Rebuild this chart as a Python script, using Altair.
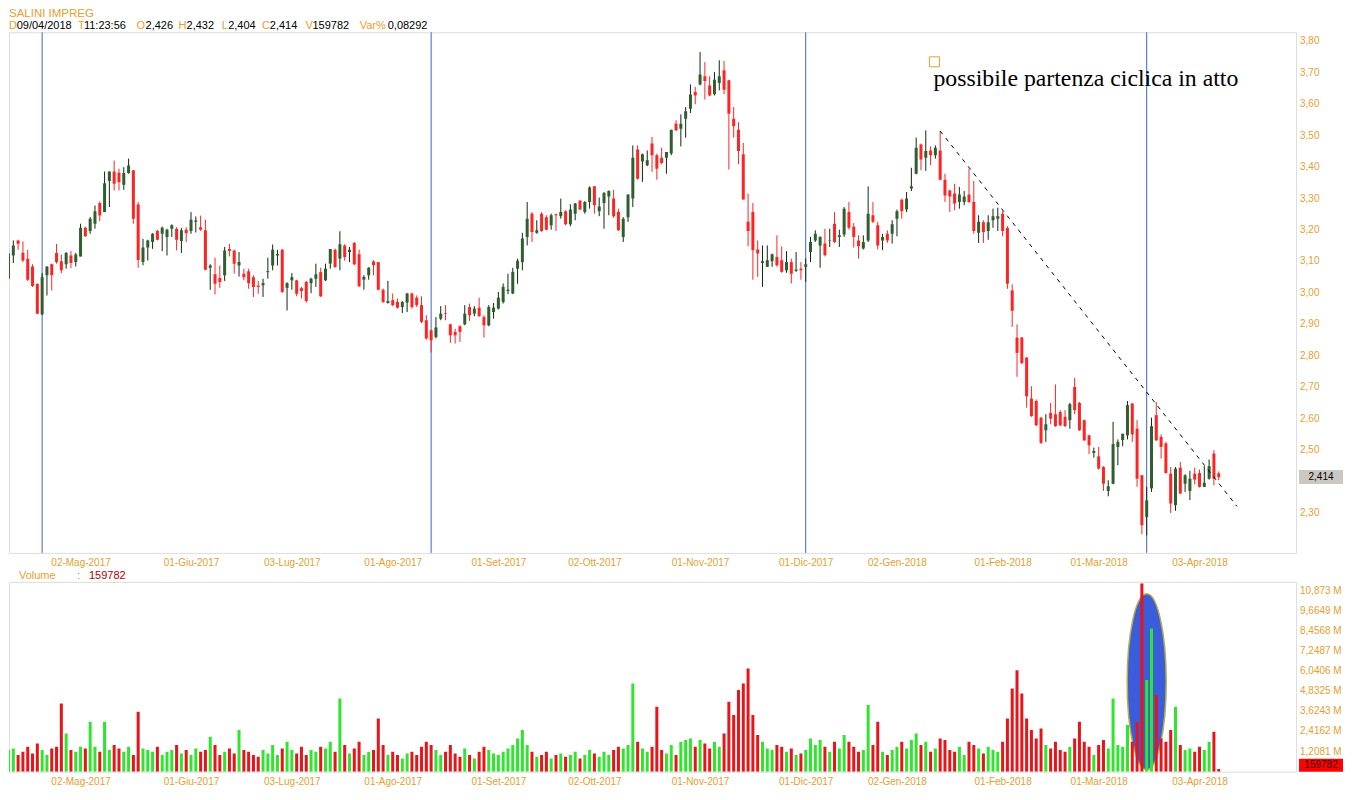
import altair as alt
import pandas as pd

# ---------------- data ----------------
opens = [3.045,3.119,3.167,3.128,3.109,3.084,3.029,2.932,3.056,3.091,
         3.127,3.101,3.091,3.119,3.098,3.116,3.207,3.197,3.220,3.286,
         3.257,3.356,3.386,3.382,3.344,3.381,3.390,3.281,3.098,3.144,
         3.162,3.197,3.188,3.178,3.204,3.204,3.165,3.201,3.197,3.226,
         3.209,3.199,3.080,3.059,3.047,3.056,3.140,3.135,3.087,3.061,
         3.069,3.050,3.023,3.024,3.066,3.087,3.119,3.137,3.016,3.040,
         3.040,3.015,3.035,3.031,3.045,3.066,3.040,3.093,3.137,3.109,
         3.151,3.130,3.159,3.123,3.042,3.056,3.100,3.098,3.010,2.968,
         2.977,2.971,2.955,2.969,2.998,2.985,2.961,2.913,2.881,2.860,
         2.918,2.936,2.900,2.876,2.894,2.900,2.955,2.934,2.953,2.923,
         2.897,2.939,2.950,2.971,3.006,2.998,3.077,3.098,3.178,3.252,
         3.191,3.252,3.241,3.215,3.250,3.244,3.260,3.218,3.252,3.294,
         3.257,3.289,3.339,3.260,3.286,3.307,3.300,3.257,3.178,3.241,
         3.300,3.456,3.418,3.406,3.475,3.438,3.430,3.430,3.443,3.538,
         3.522,3.554,3.586,3.639,3.663,3.689,3.660,3.632,3.668,3.708,
         3.676,3.554,3.519,3.441,3.226,3.257,3.138,3.095,3.083,3.101,
         3.114,3.104,3.072,3.098,3.070,3.077,3.083,3.130,3.167,3.151,
         3.157,3.165,3.220,3.178,3.186,3.257,3.210,3.167,3.141,3.167,
         3.247,3.215,3.167,3.188,3.188,3.236,3.296,3.265,3.332,3.379,
         3.472,3.430,3.453,3.438,3.453,3.360,3.326,3.316,3.289,3.289,
         3.313,3.289,3.191,3.225,3.197,3.231,3.236,3.252,3.207,3.008,
         2.858,2.858,2.794,2.664,2.656,2.603,2.563,2.618,2.614,2.621,
         2.606,2.595,2.701,2.650,2.595,2.547,2.491,2.480,2.446,2.370,
         2.393,2.510,2.532,2.547,2.648,2.568,2.420,2.287,2.378,2.611,
         2.542,2.521,2.425,2.325,2.444,2.393,2.370,2.425,2.427,2.383,
         2.409,2.489,2.426]
highs = [3.130,3.167,3.169,3.164,3.137,3.091,3.029,3.063,3.084,3.093,
         3.156,3.122,3.130,3.133,3.127,3.220,3.211,3.241,3.278,3.291,
         3.386,3.386,3.421,3.395,3.400,3.427,3.390,3.289,3.172,3.169,
         3.190,3.201,3.211,3.204,3.218,3.209,3.207,3.209,3.257,3.243,
         3.246,3.233,3.091,3.112,3.087,3.146,3.156,3.137,3.130,3.077,
         3.077,3.056,3.038,3.045,3.112,3.154,3.137,3.140,3.034,3.063,
         3.042,3.019,3.038,3.048,3.093,3.080,3.093,3.140,3.141,3.196,
         3.155,3.146,3.162,3.138,3.056,3.082,3.104,3.098,3.014,3.038,
         2.998,2.982,2.974,3.000,3.001,2.992,2.989,2.929,2.883,2.923,
         2.958,2.961,2.902,2.886,2.897,2.961,2.966,2.958,2.985,2.929,
         2.961,2.968,3.003,3.030,3.061,3.080,3.109,3.191,3.289,3.257,
         3.231,3.257,3.247,3.252,3.252,3.300,3.263,3.282,3.286,3.294,
         3.292,3.339,3.339,3.303,3.321,3.326,3.328,3.268,3.241,3.313,
         3.469,3.469,3.443,3.453,3.496,3.443,3.462,3.448,3.519,3.549,
         3.568,3.591,3.663,3.655,3.766,3.734,3.689,3.703,3.740,3.738,
         3.678,3.591,3.543,3.477,3.316,3.286,3.167,3.151,3.151,3.125,
         3.183,3.148,3.133,3.109,3.130,3.098,3.109,3.178,3.199,3.180,
         3.204,3.204,3.257,3.201,3.273,3.289,3.222,3.183,3.183,3.339,
         3.289,3.226,3.188,3.199,3.231,3.265,3.300,3.321,3.398,3.494,
         3.475,3.517,3.466,3.469,3.515,3.379,3.328,3.347,3.337,3.324,
         3.395,3.356,3.247,3.231,3.247,3.268,3.271,3.260,3.212,3.027,
         2.900,2.860,2.796,2.703,2.661,2.606,2.614,2.650,2.709,2.627,
         2.627,2.650,2.730,2.653,2.597,2.549,2.508,2.510,2.449,2.404,
         2.590,2.534,2.552,2.656,2.650,2.595,2.420,2.383,2.603,2.653,
         2.550,2.526,2.446,2.446,2.462,2.423,2.434,2.444,2.438,2.449,
         2.470,2.500,2.432]
lows = [3.045,3.095,3.137,3.098,3.038,3.019,2.932,2.929,2.992,3.008,
        3.093,3.063,3.077,3.079,3.084,3.116,3.178,3.188,3.204,3.228,
        3.257,3.273,3.326,3.326,3.328,3.379,3.220,3.080,3.088,3.103,
        3.140,3.167,3.133,3.119,3.178,3.135,3.127,3.162,3.188,3.192,
        3.197,3.072,3.010,2.995,3.016,3.038,3.116,3.061,3.052,3.040,
        3.013,2.987,2.997,2.987,3.045,3.072,3.087,3.000,2.944,3.010,
        2.989,2.982,2.969,2.999,3.019,2.987,3.038,3.077,3.080,3.072,
        3.102,3.098,3.088,3.019,3.010,3.042,3.056,3.008,2.968,2.966,
        2.958,2.950,2.936,2.939,2.950,2.955,2.904,2.851,2.810,2.855,
        2.913,2.913,2.841,2.839,2.844,2.897,2.911,2.926,2.924,2.858,
        2.894,2.918,2.947,2.966,2.996,2.996,3.029,3.072,3.151,3.162,
        3.188,3.194,3.199,3.201,3.197,3.236,3.215,3.212,3.231,3.263,
        3.252,3.268,3.252,3.244,3.204,3.247,3.239,3.197,3.162,3.226,
        3.273,3.360,3.353,3.403,3.385,3.360,3.409,3.379,3.438,3.515,
        3.466,3.494,3.572,3.600,3.660,3.615,3.625,3.628,3.644,3.632,
        3.392,3.494,3.409,3.297,3.148,3.042,3.051,3.019,3.083,3.083,
        3.083,3.064,3.064,3.030,3.067,3.042,3.035,3.098,3.162,3.080,
        3.116,3.146,3.159,3.146,3.178,3.201,3.144,3.109,3.138,3.162,
        3.222,3.138,3.136,3.159,3.157,3.180,3.236,3.257,3.324,3.377,
        3.390,3.388,3.406,3.427,3.358,3.289,3.257,3.263,3.268,3.279,
        3.286,3.188,3.159,3.159,3.169,3.207,3.197,3.180,3.013,2.892,
        2.733,2.773,2.635,2.606,2.576,2.519,2.526,2.582,2.574,2.576,
        2.574,2.568,2.614,2.561,2.529,2.487,2.476,2.438,2.370,2.353,
        2.391,2.452,2.512,2.534,2.526,2.383,2.232,2.229,2.367,2.529,
        2.473,2.425,2.300,2.307,2.360,2.367,2.341,2.391,2.381,2.383,
        2.406,2.388,2.404]
closes = [3.125,3.151,3.156,3.103,3.042,3.022,2.934,3.050,3.084,3.056,
          3.098,3.072,3.127,3.095,3.122,3.207,3.180,3.236,3.260,3.246,
          3.349,3.386,3.347,3.352,3.381,3.405,3.236,3.105,3.144,3.167,
          3.188,3.169,3.207,3.201,3.215,3.169,3.199,3.190,3.233,3.230,
          3.201,3.074,3.087,3.029,3.035,3.135,3.133,3.093,3.098,3.050,
          3.031,3.019,3.019,3.031,3.069,3.137,3.124,3.003,3.031,3.050,
          2.997,3.006,2.974,3.045,3.059,2.989,3.077,3.140,3.082,3.155,
          3.114,3.137,3.091,3.021,3.051,3.080,3.088,3.010,2.971,2.974,
          2.961,2.953,2.971,2.998,2.955,2.961,2.908,2.855,2.849,2.890,
          2.934,2.934,2.865,2.865,2.876,2.934,2.929,2.950,2.926,2.897,
          2.955,2.953,2.985,3.019,3.010,3.067,3.102,3.173,3.236,3.194,
          3.199,3.197,3.201,3.247,3.247,3.257,3.218,3.265,3.284,3.265,
          3.289,3.335,3.279,3.275,3.318,3.324,3.244,3.199,3.236,3.313,
          3.430,3.363,3.441,3.422,3.438,3.395,3.413,3.448,3.519,3.517,
          3.538,3.578,3.631,3.628,3.695,3.674,3.628,3.678,3.689,3.646,
          3.570,3.530,3.451,3.297,3.197,3.136,3.125,3.101,3.104,3.123,
          3.088,3.067,3.098,3.061,3.074,3.072,3.091,3.162,3.188,3.178,
          3.120,3.167,3.162,3.183,3.268,3.207,3.178,3.148,3.162,3.252,
          3.226,3.151,3.178,3.167,3.218,3.260,3.260,3.300,3.339,3.462,
          3.424,3.451,3.438,3.462,3.360,3.310,3.307,3.284,3.313,3.307,
          3.289,3.197,3.226,3.194,3.225,3.244,3.244,3.197,3.029,2.943,
          2.809,2.777,2.671,2.608,2.579,2.523,2.582,2.600,2.576,2.579,
          2.576,2.646,2.627,2.563,2.531,2.515,2.497,2.441,2.393,2.385,
          2.519,2.526,2.552,2.643,2.550,2.409,2.261,2.340,2.576,2.531,
          2.510,2.427,2.330,2.441,2.362,2.420,2.409,2.406,2.383,2.396,
          2.449,2.409,2.414]
volumes_m = [1.3,1.4,1.0,1.2,1.5,1.1,1.7,1.3,1.0,1.4,
             1.5,4.1,2.3,1.3,1.2,1.5,1.4,3.0,1.5,1.2,
             3.0,1.3,1.6,1.4,1.2,1.5,1.0,3.6,1.4,1.3,
             1.2,1.5,1.0,1.2,1.3,1.6,1.1,1.3,1.0,1.4,
             1.2,1.3,2.1,1.6,1.0,1.2,1.4,1.1,2.5,1.3,
             1.2,1.0,0.9,1.3,1.1,1.6,1.0,1.4,1.8,1.3,
             1.1,1.5,1.0,1.3,1.2,1.5,1.4,1.8,1.2,4.4,
             1.6,1.1,1.4,1.8,1.0,1.2,1.3,3.2,1.6,1.0,
             1.2,1.0,0.8,1.1,1.2,1.0,1.5,1.8,1.6,1.3,
             1.0,1.2,1.6,1.1,0.9,1.4,1.0,0.8,1.2,1.5,
             1.3,1.1,1.0,1.2,1.4,1.6,2.0,2.5,1.6,1.2,
             0.9,1.0,1.2,0.8,1.0,1.1,0.9,1.0,1.2,0.8,
             1.0,1.3,1.1,0.9,1.2,1.0,1.3,1.5,1.4,1.6,
             5.3,1.8,1.4,1.2,1.5,3.9,1.3,1.1,1.6,1.0,
             1.8,1.9,2.0,1.5,1.9,1.7,1.4,1.8,1.5,2.3,
             4.2,3.4,4.9,5.3,6.2,3.4,2.2,1.8,1.4,1.3,
             1.6,1.5,1.2,1.4,1.0,1.1,1.3,2.0,1.6,1.9,
             1.5,1.2,1.8,1.4,2.2,1.8,1.5,1.2,1.3,4.0,
             1.6,3.0,1.2,1.0,1.3,1.5,1.8,1.4,1.9,2.3,
             1.6,1.8,1.2,1.4,2.0,1.9,1.3,1.2,1.5,1.0,
             1.8,1.6,1.4,1.1,1.5,1.3,1.2,1.8,3.2,5.0,
             6.1,4.7,3.2,2.5,2.0,2.6,1.6,1.4,1.8,1.3,
             1.2,1.5,2.0,3.0,1.8,1.5,1.0,1.6,1.9,1.4,
             4.4,1.6,1.5,2.8,1.8,3.0,11.3,5.5,8.6,4.6,
             2.0,1.8,2.5,3.9,1.6,1.3,1.4,1.2,1.5,1.3,
             1.8,2.4,0.159782]

cycle_bars = [8, 89, 167, 238]
date_ticks = [16, 39, 60, 81, 103, 123, 145, 167, 186, 208, 228, 249]
date_labels = ["02-Mag-2017", "01-Giu-2017", "03-Lug-2017", "01-Ago-2017",
               "01-Set-2017", "02-Ott-2017", "01-Nov-2017", "01-Dic-2017",
               "02-Gen-2018", "01-Feb-2018", "01-Mar-2018", "03-Apr-2018"]
price_ticks = [2.3, 2.5, 2.6, 2.7, 2.8, 2.9, 3.0, 3.1, 3.2, 3.3, 3.4, 3.5, 3.6, 3.7, 3.8]
volume_ticks = [1.2081, 2.4162, 3.6243, 4.8325, 6.0406, 7.2487, 8.4568, 9.6649, 10.873]
trend_bars = [195, 256.8]
trend_prices = [3.515, 2.321]
note_bar, note_price = 193.6, 3.657
mark_bar_pos, mark_price = 193.8, 3.735
ellipse_bar, ellipse_vol = 238.0, 5.4
last_price = 2.414
last_price_label = "2,414"
last_volume_label = "159782"
header_parts = [("D", "k"), ("09/04/2018", "v"), ("T", "k"), ("11:23:56", "v"),
                ("O", "k"), ("2,426", "v"), ("H", "k"), ("2,432", "v"),
                ("L", "k"), ("2,404", "v"), ("C", "k"), ("2,414", "v"),
                ("V", "k"), ("159782", "v"), ("Var%", "k"), ("0,08292", "v")]

# ---------------- layout / style ----------------
W, HP, HV = 1288, 521, 190
ORANGE = "#E3A030"
UP_BODY, UP_WICK = "#2F5E2F", "#0E2A0E"
DN = "#FF2424"
VOL_UP, VOL_DN = "#2EE62E", "#E8141A"
BLUE = "#3C64D2"
FONT = "Liberation Sans"

df = pd.DataFrame({"bar": list(range(1, len(opens) + 1)), "open": opens,
                   "high": highs, "low": lows, "close": closes, "vol": volumes_m})
is_up = "datum.close >= datum.open"

x_scale = alt.Scale(domain=[1.1, 269.1], nice=False, zero=False, padding=0)
p_scale = alt.Scale(domain=[2.173, 3.829], nice=False, zero=False, padding=0)
v_scale = alt.Scale(domain=[0, 11.40], nice=False, zero=True, padding=0)

date_expr = ("[" + ",".join("'%s'" % s for s in date_labels) + "][indexof(["
             + ",".join(str(t) for t in date_ticks) + "], datum.value)]")

def x_axis():
    return alt.Axis(values=date_ticks, labelExpr=date_expr, labelColor=ORANGE,
                    labelFont=FONT, labelFontSize=10, ticks=False, domain=False,
                    grid=False, title=None, labelPadding=5, labelOverlap=False,
                    labelFlush=False)

one = pd.DataFrame({"k": [0]})

# ---------------- price panel ----------------
base = alt.Chart(df)
cycles = alt.Chart(pd.DataFrame({"bar": cycle_bars})).mark_rule(
    color=BLUE, strokeWidth=1).encode(x=alt.X("bar:Q", scale=x_scale, axis=x_axis()))
wicks = base.mark_rule(strokeWidth=1, clip=True).encode(
    x=alt.X("bar:Q", scale=x_scale),
    y=alt.Y("low:Q", scale=p_scale, axis=None), y2="high:Q",
    color=alt.condition(is_up, alt.value(UP_WICK), alt.value(DN)))
bodies = base.mark_bar(size=3, clip=True).encode(
    x=alt.X("bar:Q", scale=x_scale),
    y=alt.Y("open:Q", scale=p_scale, axis=None), y2="close:Q",
    color=alt.condition(is_up, alt.value(UP_BODY), alt.value(DN)))
trend = alt.Chart(pd.DataFrame({"bar": trend_bars, "price": trend_prices})).mark_line(
    color="black", strokeWidth=1, strokeDash=[4, 5]).encode(
    x=alt.X("bar:Q", scale=x_scale), y=alt.Y("price:Q", scale=p_scale, axis=None))
sq = alt.Chart(pd.DataFrame({"bar": [mark_bar_pos], "price": [mark_price]})).mark_point(
    shape="square", filled=False, size=100, color=ORANGE, strokeWidth=1, opacity=1).encode(
    x=alt.X("bar:Q", scale=x_scale), y=alt.Y("price:Q", scale=p_scale, axis=None))
note = alt.Chart(pd.DataFrame({"bar": [note_bar], "price": [note_price]})).mark_text(
    text="possibile partenza ciclica in atto", align="left", baseline="alphabetic",
    font="Liberation Serif", fontSize=23.8, color="black").encode(
    x=alt.X("bar:Q", scale=x_scale), y=alt.Y("price:Q", scale=p_scale, axis=None))
p_labels = alt.Chart(pd.DataFrame({"p": price_ticks})).transform_calculate(
    lbl="replace(format(datum.p, '.2f'), '.', ',')").mark_text(
    align="left", baseline="middle", font=FONT, fontSize=10, color=ORANGE).encode(
    x=alt.value(W + 4), y=alt.Y("p:Q", scale=p_scale, axis=None), text="lbl:N")
last_box = alt.Chart(one).mark_rect(color="#CBC8C2", yOffset=-7, y2Offset=7).encode(
    x=alt.value(W + 3), x2=alt.value(W + 47),
    y=alt.datum(last_price, scale=p_scale, axis=None), y2=alt.datum(last_price))
last_txt = alt.Chart(one).mark_text(text=last_price_label, align="center", baseline="middle",
                                     font=FONT, fontSize=10, color="black").encode(
    x=alt.value(W + 25), y=alt.datum(last_price, scale=p_scale, axis=None))

header_layers = [alt.Chart(one).mark_text(text="SALINI IMPREG", align="left", baseline="alphabetic",
                                          font=FONT, fontSize=11.5, color=ORANGE).encode(
    x=alt.value(0), y=alt.value(-15))]
header_x = [0, 7.7, 69, 75, 127.7, 136.7, 169.7, 177.7, 213, 219.3, 253.3, 261,
            296.7, 303.7, 351, 379]
for (txt, kind), hx in zip(header_parts, header_x):
    header_layers.append(alt.Chart(one).mark_text(
        text=txt, align="left", baseline="alphabetic", font=FONT, fontSize=11,
        color=ORANGE if kind == "k" else "black").encode(x=alt.value(hx), y=alt.value(-3.5)))

price = alt.layer(cycles, wicks, bodies, trend, sq, note, p_labels, last_box, last_txt,
                  *header_layers).properties(width=W, height=HP)

# ---------------- volume panel ----------------
a, k = 0.222, 0.5523
ell = ("M0,-1C{ka},-1 {a},-{k} {a},0C{a},{k} {ka},1 0,1C-{ka},1 -{a},{k} -{a},0"
       "C-{a},-{k} -{ka},-1 0,-1Z").format(a=a, k=k, ka=round(a * k, 4))
ellipse = alt.Chart(pd.DataFrame({"bar": [ellipse_bar], "vol": [ellipse_vol]})).mark_point(
    shape=ell, filled=True, fill="#3B5CDB", stroke="#B8AE48", strokeWidth=1.5,
    opacity=1, size=176 * 176).encode(
    x=alt.X("bar:Q", scale=x_scale, axis=x_axis()), y=alt.Y("vol:Q", scale=v_scale, axis=None))
vbars = base.mark_bar(size=3, clip=True).encode(
    x=alt.X("bar:Q", scale=x_scale),
    y=alt.Y("vol:Q", scale=v_scale, axis=None),
    color=alt.condition(is_up, alt.value(VOL_UP), alt.value(VOL_DN)))
v_labels = alt.Chart(pd.DataFrame({"v": volume_ticks})).transform_calculate(
    lbl="replace(format(datum.v, '.5'), '.', ',') + ' M'").mark_text(
    align="left", baseline="middle", font=FONT, fontSize=10, color=ORANGE).encode(
    x=alt.value(W + 4), y=alt.Y("v:Q", scale=v_scale, axis=None), text="lbl:N")
vlab = [alt.Chart(one).mark_text(text=t, align="left", baseline="alphabetic", font=FONT,
                                 fontSize=11, color=c).encode(x=alt.value(px), y=alt.value(-3))
        for t, c, px in [("Volume", ORANGE, 10), (":", "#888888", 68),
                         (last_volume_label, "#B00000", 80)]]
vbox = alt.Chart(one).mark_rect(color="#FF0000").encode(
    x=alt.value(W + 3), x2=alt.value(W + 47), y=alt.value(HV - 13), y2=alt.value(HV))
vbox_txt = alt.Chart(one).mark_text(text=last_volume_label, align="center", baseline="middle",
                                     font=FONT, fontSize=10, color="#300000").encode(
    x=alt.value(W + 25), y=alt.value(HV - 6.5))

volume = alt.layer(ellipse, vbars, v_labels, *vlab, vbox, vbox_txt).properties(width=W, height=HV)

chart = alt.vconcat(price, volume, spacing=29, bounds="flush").properties(
    padding={"left": 0, "top": -1, "right": 0, "bottom": 0}
).configure_view(stroke="#8C8C8C", strokeWidth=1).configure(background="white")

chart.save("out.html", embed_options={"renderer": "svg", "actions": False})
